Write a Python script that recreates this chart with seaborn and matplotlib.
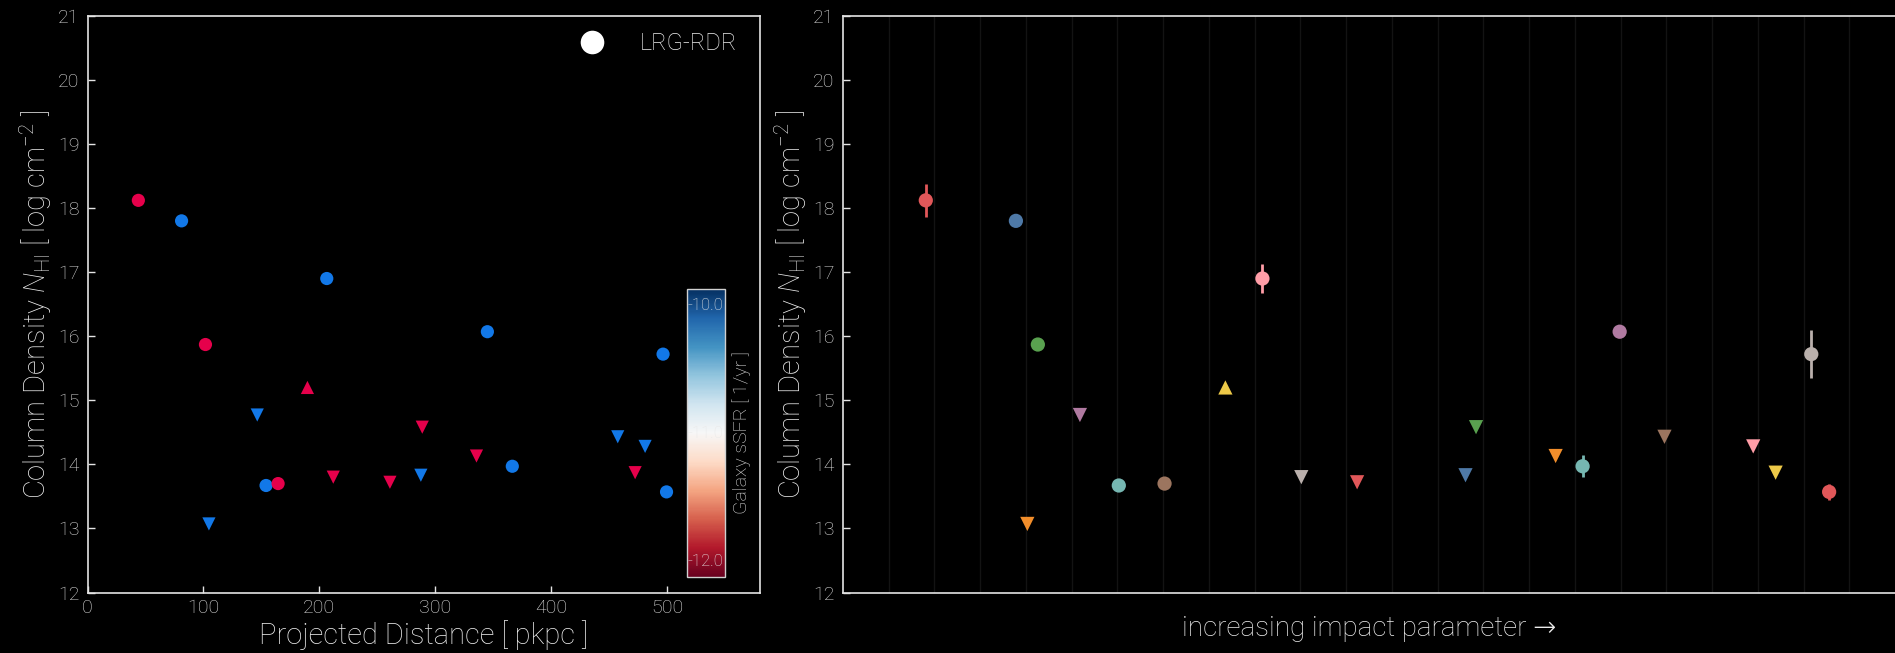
import numpy as np
import pandas as pd
import matplotlib
matplotlib.use("Agg")
import matplotlib as mpl
import matplotlib.pyplot as plt
import seaborn as sns
from matplotlib.lines import Line2D

# ---------------- data (ordered by increasing impact parameter) ----------------
distance = [43.8, 81.1, 104.7, 101.7, 146.4, 154.0, 164.4, 189.7, 206.4, 212.0, 260.9,
            287.6, 288.8, 335.6, 366.5, 345.0, 457.5, 481.1, 472.5, 496.6, 499.6]
log_nhi = [18.12, 17.80, 13.07, 15.87, 14.77, 13.67, 13.70, 15.20, 16.90, 13.80, 13.72,
           13.83, 14.58, 14.13, 13.97, 16.07, 14.43, 14.28, 13.87, 15.72, 13.57]
nhi_err = [0.26, 0.05, 0.0, 0.05, 0.0, 0.05, 0.05, 0.0, 0.22, 0.0, 0.0,
           0.0, 0.0, 0.0, 0.17, 0.05, 0.0, 0.0, 0.0, 0.37, 0.13]
limit = ["det", "det", "upper", "det", "upper", "det", "det", "lower", "det", "upper", "upper",
         "upper", "upper", "upper", "det", "det", "upper", "upper", "upper", "det", "det"]
ssfr_class = ["Q", "SF", "SF", "Q", "SF", "SF", "Q", "Q", "SF", "Q", "Q",
              "SF", "Q", "Q", "SF", "SF", "SF", "SF", "Q", "SF", "SF"]
rank_pos = [1.81, 3.78, 4.03, 4.26, 5.18, 6.03, 7.03, 8.36, 9.17, 10.02, 11.24,
            13.61, 13.84, 15.58, 16.17, 16.98, 17.96, 19.90, 20.39, 21.17, 21.56]
point_colors = ["#e15759", "#4e79a7", "#f28e2b", "#59a14f", "#b07aa1", "#76b7b2", "#9c755f",
                "#edc948", "#ff9da7", "#bab0ac", "#e15759", "#4e79a7", "#59a14f", "#f28e2b",
                "#76b7b2", "#b07aa1", "#9c755f", "#ff9da7", "#edc948", "#bab0ac", "#e15759"]
class_colors = {"SF": "#1278e8", "Q": "#e6004b"}
marker_map = {"det": "o", "upper": "v", "lower": "^"}
y_ticks = [12, 13, 14, 15, 16, 17, 18, 19, 20, 21]
x_ticks = [0, 100, 200, 300, 400, 500]
cbar_ticks = [-10.0, -11.0, -12.0]
grid_positions = list(range(1, 23))

df = pd.DataFrame({
    "distance": distance, "logN": log_nhi, "err": nhi_err, "limit": limit,
    "ssfr": ssfr_class, "rank": rank_pos,
    "pid": [f"p{i:02d}" for i in range(len(distance))],
})

# ---------------- style ----------------
sns.set_theme(style="ticks")
TXT = "#ececec"
plt.rcParams.update({
    "figure.facecolor": "black",
    "axes.facecolor": "black",
    "savefig.facecolor": "black",
    "axes.edgecolor": "#e4e4e4",
    "axes.linewidth": 1.2,
    "text.color": TXT,
    "axes.labelcolor": TXT,
    "xtick.color": "#e4e4e4",
    "ytick.color": "#e4e4e4",
    "xtick.labelcolor": "#e0e0e0",
    "ytick.labelcolor": "#e0e0e0",
    "mathtext.fontset": "custom",
    "mathtext.rm": "Roboto:light",
    "mathtext.it": "Roboto:italic:light",
    "mathtext.bf": "Roboto:bold",
})
plt.rcParams["font.family"] = ["Roboto", "DejaVu Sans"]
plt.rcParams["font.weight"] = "light"

W, H = 1895, 653
fig = plt.figure(figsize=(W / 100, H / 100), dpi=100)

def fx(px):
    return px / W

def fy(py):
    return 1 - py / H

ax1 = fig.add_axes([fx(87.6), fy(592.5), fx(759.7 - 87.6), (592.5 - 15.8) / H])
ax2 = fig.add_axes([fx(843), fy(592.5), 1 - fx(843), (592.5 - 15.8) / H])

ylab = r"Column Density $N_{\rm HI}$ [ log cm$^{-2}$ ]"

# ---------------- left panel ----------------
sns.scatterplot(data=df, x="distance", y="logN", hue="ssfr", palette=class_colors,
                style="limit", markers=marker_map, s=90, linewidth=0, legend=False,
                ax=ax1, zorder=3)
ax1.set_xlim(0, 580)
ax1.set_ylim(12, 21)
ax1.set_xticks(x_ticks)
ax1.set_yticks(y_ticks)
ax1.tick_params(axis="both", direction="in", length=5, width=1, labelsize=14)
ax1.tick_params(axis="x", pad=5)
ax1.tick_params(axis="y", pad=6)
ax1.set_xlabel("Projected Distance [ pkpc ]", fontsize=21, labelpad=2, fontweight="light")
ax1.set_ylabel(ylab, fontsize=21, labelpad=3, fontweight="light")

handle = Line2D([], [], linestyle="none", marker="o", markersize=17,
                markerfacecolor="white", markeredgecolor="none")
leg = ax1.legend([handle], ["LRG-RDR"], loc="upper right", frameon=False,
                 bbox_to_anchor=(0.966, 0.972), borderaxespad=0, borderpad=0,
                 handlelength=1.0, handletextpad=1.5, fontsize=17)
for t in leg.get_texts():
    t.set_color("#eeeeee")
    t.set_fontweight("light")

# colorbar
cax = fig.add_axes([fx(686.7), fy(577), fx(725.3 - 686.7), (577 - 289) / H])
norm = mpl.colors.Normalize(vmin=-12.125, vmax=-9.875)
sm = mpl.cm.ScalarMappable(norm=norm, cmap="RdBu")
cb = fig.colorbar(sm, cax=cax)
cb.outline.set_edgecolor("#d0d0d0")
cb.outline.set_linewidth(1.0)
cb.set_ticks([])
for v in cbar_ticks:
    cax.text(0.96, v, f"{v:.1f}", transform=cax.get_yaxis_transform(),
             ha="right", va="center", fontsize=12, color="#e8e8e8", fontweight="light")
cax.yaxis.set_label_position("right")
cax.set_ylabel("Galaxy sSFR [ 1/yr ]", fontsize=14, labelpad=5, color="#e0e0e0",
               fontweight="light")

# ---------------- right panel ----------------
for gx in grid_positions:
    ax2.axvline(gx, color="#131313", lw=1.0, zorder=0)
ax2.vlines(df["rank"], df["logN"] - df["err"], df["logN"] + df["err"],
           colors=point_colors, lw=2.0, zorder=2)
sns.scatterplot(data=df, x="rank", y="logN", hue="pid", hue_order=list(df["pid"]),
                palette=point_colors, style="limit", markers=marker_map, s=105,
                linewidth=0, legend=False, ax=ax2, zorder=3)
ax2.set_xlim(0, 23)
ax2.set_ylim(12, 21)
ax2.set_yticks(y_ticks)
ax2.set_xticks([])
ax2.spines["right"].set_visible(False)
ax2.tick_params(axis="y", direction="in", length=5, width=1, labelsize=14, pad=6)
ax2.set_ylabel(ylab, fontsize=21, labelpad=3, fontweight="light")
ax2.set_xlabel("increasing impact parameter \u2192", fontsize=20, labelpad=16,
               fontweight="light")

fig.savefig("out.png", dpi=100, facecolor="black")
